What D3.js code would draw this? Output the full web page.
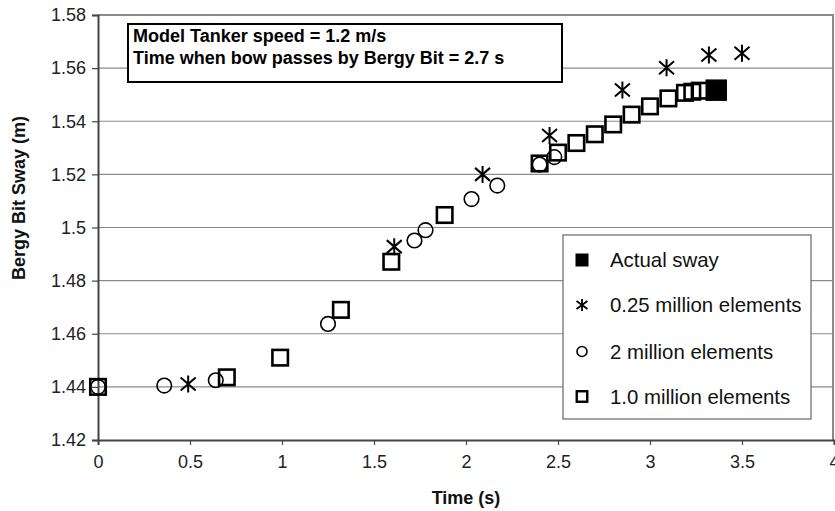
<!DOCTYPE html>
<html>
<head>
<meta charset="utf-8">
<script src="https://cdn.jsdelivr.net/npm/d3@7/dist/d3.min.js"></script>
<style>
  html, body { margin: 0; padding: 0; background: #fff; }
  svg { display: block; font-family: "Liberation Sans", Arial, sans-serif; }
</style>
</head>
<body>
<svg id="chart" width="835" height="511"></svg>
<script>
// ---- Data ----
const xTickValues = [0, 0.5, 1, 1.5, 2, 2.5, 3, 3.5, 4];
const xTickLabels = ["0", "0.5", "1", "1.5", "2", "2.5", "3", "3.5", "4"];
const yTickValues = [1.42, 1.44, 1.46, 1.48, 1.50, 1.52, 1.54, 1.56, 1.58];
const yTickLabels = ["1.42", "1.44", "1.46", "1.48", "1.5", "1.52", "1.54", "1.56", "1.58"];

const seriesNames = ["Actual sway", "0.25 million elements", "2 million elements", "1.0 million elements"];

const actualTime = [3.36];
const actualSway = [1.5517];

const q025Time = [0.49, 1.61, 2.09, 2.454, 2.85, 3.09, 3.32, 3.50];
const q025Sway = [1.4411, 1.4928, 1.5200, 1.5346, 1.5518, 1.5601, 1.5649, 1.5656];

const m2Time = [0, 0.36, 0.64, 1.25, 1.72, 1.78, 2.03, 2.17, 2.40, 2.48];
const m2Sway = [1.4400, 1.4405, 1.4425, 1.4637, 1.4951, 1.4990, 1.5107, 1.5158, 1.5237, 1.5265];

const m1Time = [0, 0.70, 0.99, 1.32, 1.594, 1.884, 2.40, 2.50, 2.60, 2.70, 2.80, 2.90, 3.00, 3.10, 3.19, 3.23, 3.27];
const m1Sway = [1.4400, 1.4436, 1.4510, 1.4690, 1.4871, 1.5047, 1.5241, 1.5282, 1.5318, 1.5351, 1.5388, 1.5425, 1.5456, 1.5486, 1.5507, 1.5511, 1.5515];

const noteLines = ["Model Tanker speed = 1.2 m/s", "Time when bow passes by Bergy Bit = 2.7 s"];
const xTitle = "Time (s)";
const yTitle = "Bergy Bit Sway (m)";

// ---- Layout ----
const W = 835, H = 511;
const margin = { top: 15, right: 1, bottom: 71, left: 98 };
const svg = d3.select("#chart");

const x = d3.scaleLinear().domain([0, 4]).range([margin.left, W - margin.right]);
const y = d3.scaleLinear().domain([1.42, 1.58]).range([H - margin.bottom, margin.top]);

const zip = (a, b) => a.map((v, i) => ({ t: v, s: b[i] }));

// Gridlines
svg.append("g")
  .selectAll("line")
  .data(yTickValues.slice(1, -1))
  .join("line")
  .attr("x1", x(0)).attr("x2", x(4))
  .attr("y1", d => y(d)).attr("y2", d => y(d))
  .attr("stroke", "#8a8a8a").attr("stroke-width", 1.2);

// Plot border (top and right)
svg.append("path")
  .attr("d", `M${x(0)},${y(1.58)}H${x(4) - 1}V${y(1.42)}`)
  .attr("fill", "none").attr("stroke", "#8a8a8a").attr("stroke-width", 2);

// Axes
const yAxis = d3.axisLeft(y)
  .tickValues(yTickValues)
  .tickFormat((d, i) => yTickLabels[i])
  .tickSize(6).tickPadding(6);
const gy = svg.append("g").attr("transform", `translate(${x(0)},0)`).call(yAxis);

const xAxis = d3.axisBottom(x)
  .tickValues(xTickValues)
  .tickFormat((d, i) => xTickLabels[i])
  .tickSize(5).tickPadding(10);
const gx = svg.append("g").attr("transform", `translate(0,${y(1.42)})`).call(xAxis);

[gx, gy].forEach(g => {
  g.select(".domain").attr("stroke", "#444").attr("stroke-width", 2);
  g.selectAll(".tick line").attr("stroke", "#444").attr("stroke-width", 1.2);
  g.selectAll(".tick text").attr("fill", "#222").attr("font-size", 18)
    .attr("font-family", "'Liberation Sans', Arial, sans-serif");
});

// Axis titles
svg.append("text")
  .attr("x", (x(0) + x(4)) / 2).attr("y", 504)
  .attr("text-anchor", "middle")
  .attr("font-size", 18).attr("font-weight", "bold").attr("fill", "#111")
  .text(xTitle);

svg.append("text")
  .attr("transform", `translate(25,198) rotate(-90)`)
  .attr("text-anchor", "middle")
  .attr("font-size", 18).attr("font-weight", "bold").attr("fill", "#111")
  .text(yTitle);

// Marker drawers
function drawSquare(g, cx, cy, size, filled, sw) {
  g.append("rect")
    .attr("x", cx - size / 2).attr("y", cy - size / 2)
    .attr("width", size).attr("height", size)
    .attr("fill", filled ? "#000" : "none")
    .attr("stroke", "#000").attr("stroke-width", sw);
}
function drawCircle(g, cx, cy, r, sw) {
  g.append("circle").attr("cx", cx).attr("cy", cy).attr("r", r)
    .attr("fill", "none").attr("stroke", "#000").attr("stroke-width", sw);
}
function drawStar(g, cx, cy, w, h, sw) {
  const p = `M${cx},${cy - h / 2}V${cy + h / 2}` +
            `M${cx - w / 2},${cy - h / 2 + 2}L${cx + w / 2},${cy + h / 2 - 2}` +
            `M${cx + w / 2},${cy - h / 2 + 2}L${cx - w / 2},${cy + h / 2 - 2}`;
  g.append("path").attr("d", p).attr("fill", "none").attr("stroke", "#000").attr("stroke-width", sw);
}

const marks = svg.append("g");
zip(actualTime, actualSway).forEach(d => drawSquare(marks, x(d.t), y(d.s), 20, true, 1.5));
zip(q025Time, q025Sway).forEach(d => drawStar(marks, x(d.t), y(d.s), 15, 17, 2));
zip(m2Time, m2Sway).forEach(d => drawCircle(marks, x(d.t), y(d.s), 7.3, 1.6));
zip(m1Time, m1Sway).forEach(d => drawSquare(marks, x(d.t), y(d.s), 15.5, false, 2.6));

// Annotation box
const note = svg.append("g");
note.append("rect")
  .attr("x", 128).attr("y", 24).attr("width", 434).attr("height", 58)
  .attr("fill", "#fff").attr("stroke", "#000").attr("stroke-width", 2);
noteLines.forEach((t, i) => {
  note.append("text")
    .attr("x", 133).attr("y", 42 + i * 22)
    .attr("font-size", 18).attr("font-weight", "bold").attr("fill", "#000")
    .text(t);
});

// Legend
const leg = svg.append("g");
leg.append("rect")
  .attr("x", 563).attr("y", 235).attr("width", 248).attr("height", 184)
  .attr("fill", "#fff").attr("stroke", "#666").attr("stroke-width", 1.2);
const legY = [260, 305, 351.5, 396.5];
const legMX = 582;
seriesNames.forEach((name, i) => {
  const cy = legY[i];
  if (i === 0) drawSquare(leg, legMX, cy, 12, true, 1);
  if (i === 1) drawStar(leg, legMX, cy, 11, 12, 1.8);
  if (i === 2) drawCircle(leg, legMX, cy, 5, 1.6);
  if (i === 3) drawSquare(leg, legMX, cy, 10.5, false, 2.4);
  leg.append("text")
    .attr("x", 610).attr("y", cy + 7)
    .attr("font-size", 20.4).attr("fill", "#111")
    .text(name);
});
</script>
</body>
</html>
